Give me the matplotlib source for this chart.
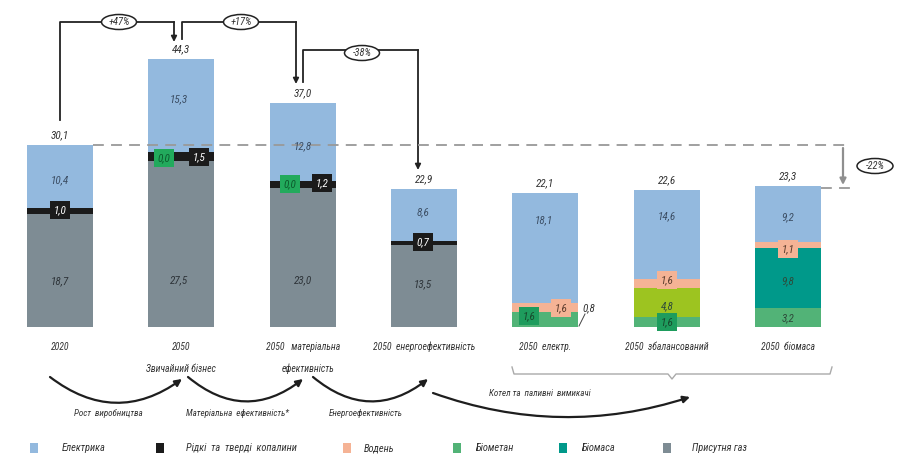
import matplotlib
matplotlib.use('Agg')
import matplotlib.pyplot as plt
from matplotlib import font_manager as fm
from matplotlib.patches import Ellipse, FancyArrowPatch, Rectangle
from matplotlib.lines import Line2D

# ---------------- data ----------------
categories = ['2020', '2050', '2050   матеріальна', '2050  енергоефективність',
              '2050  електр.', '2050  збалансований', '2050  біомаса']
sublabels = ['', 'Звичайний бізнес', 'ефективність', '', '', '', '']
totals = [30.1, 44.3, 37.0, 22.9, 22.1, 22.6, 23.3]
gas = [18.7, 27.5, 23.0, 13.5, 0, 0, 0]
other_green = [0, 0, 0, 0, 0.8, 0, 0]
biomethane = [0, 0.0, 0.0, 0, 1.6, 1.6, 3.2]
biomass = [0, 0, 0, 0, 0, 0, 9.8]
mixed = [0, 0, 0, 0, 0, 4.8, 0]
fossil = [1.0, 1.5, 1.2, 0.7, 0, 0, 0]
hydrogen = [0, 0, 0, 0, 1.6, 1.6, 1.1]
electricity = [10.4, 15.3, 12.8, 8.6, 18.1, 14.6, 9.2]
changes = ['+47%', '+17%', '-38%']
total_change = '-22%'
flows = ['Рост  виробництва', 'Матеріальна  ефективність*', 'Енергоефективність',
         'Котел та  паливні  вимикачі']
legend_names = ['Електрика', 'Рідкі  та  тверді  копалини', 'Водень', 'Біометан',
                'Біомаса', 'Присутня газ']

# ---------------- font choice (narrow if available) ----------------
_names = {f.name for f in fm.fontManager.ttflist}
FONT = None
STRETCH = 'normal'
for cand in ['Liberation Sans Narrow', 'Roboto Condensed', 'Open Sans Condensed',
             'DejaVu Sans Condensed', 'Noto Sans Condensed']:
    if cand in _names:
        FONT = cand
        break
if FONT is None:
    if any(f.name == 'DejaVu Sans' and f.stretch in ('condensed', 'semi-condensed')
           for f in fm.fontManager.ttflist):
        FONT = 'DejaVu Sans'
        STRETCH = 'condensed'
    elif 'Roboto' in _names:
        FONT = 'Roboto'
    else:
        FONT = 'DejaVu Sans'
plt.rcParams['font.family'] = [FONT, 'DejaVu Sans']
plt.rcParams['font.stretch'] = STRETCH

# ---------------- style ----------------
C_EL = '#93b9de'
C_FO = '#1b1b1b'
C_H2 = '#f5b395'
C_BM = '#52b377'
C_BIO = '#00998a'
C_MIX = '#9dc420'
C_GAS = '#7e8c94'
FS = 8

W, H = 900, 465
fig = plt.figure(figsize=(9, 4.65), dpi=100)
ax = fig.add_axes([0, 0, 1, 1])
PXX = 121.33   # px per category
PXY = 6.05     # px per unit
X0 = 60        # px of first bar centre
YB = 327       # px (from top) of the baseline
ax.set_xlim(-X0 / PXX, (W - X0) / PXX)
ax.set_ylim(-(H - YB) / PXY, YB / PXY)
ax.axis('off')


def F(x, y):
    return (x / W, 1 - y / H)


def fmt(v):
    return f'{v:.1f}'.replace('.', ',')


xs = list(range(len(categories)))
bw = 66 / PXX
stack = [(gas, C_GAS), (other_green, C_BM), (biomethane, C_BM), (biomass, C_BIO),
         (mixed, C_MIX), (fossil, C_FO), (hydrogen, C_H2), (electricity, C_EL)]
bottom = [0.0] * len(xs)
for vals, col in stack:
    ax.bar(xs, vals, width=bw, bottom=bottom, color=col, linewidth=0)
    bottom = [b + v for b, v in zip(bottom, vals)]

# totals
for i, t in enumerate(totals):
    ax.annotate(fmt(t), (i, bottom[i]), xytext=(0, 7), textcoords='offset points',
                ha='center', va='center', fontsize=FS, style='italic', color='#333333')

# segment labels: (value, x_px, y_px, style)
styles = {
    'blue': dict(color='#3b4d63'),
    'grey': dict(color='#2d3338'),
    'plain': dict(color='#2e4a3a'),
    'black': dict(color='white', bbox=dict(boxstyle='square,pad=0.35', fc=C_FO, ec='none')),
    'green0': dict(color='#0c5a2c', bbox=dict(boxstyle='square,pad=0.35', fc='#22aa5c', ec='none')),
    'green': dict(color='#17482c', bbox=dict(boxstyle='square,pad=0.35', fc='#1e9c5d', ec='none')),
    'salmon': dict(color='#5b3b2c', bbox=dict(boxstyle='square,pad=0.35', fc=C_H2, ec='none')),
    'outside': dict(color='#333333'),
}
labels = [
    (electricity[0], 60, 180, 'blue'), (fossil[0], 60, 210, 'black'), (gas[0], 60, 281, 'grey'),
    (electricity[1], 179, 99, 'blue'), (biomethane[1], 164, 158, 'green0'),
    (fossil[1], 199, 157, 'black'), (gas[1], 179, 280, 'grey'),
    (electricity[2], 303, 146, 'blue'), (biomethane[2], 290, 184, 'green0'),
    (fossil[2], 322, 183, 'black'), (gas[2], 303, 280, 'grey'),
    (electricity[3], 423, 212, 'blue'), (fossil[3], 423, 242, 'black'), (gas[3], 423, 284, 'grey'),
    (electricity[4], 544, 220, 'blue'), (biomethane[4], 529, 316, 'green'),
    (hydrogen[4], 561, 308, 'salmon'), (other_green[4], 589, 308, 'outside'),
    (electricity[5], 667, 216, 'blue'), (hydrogen[5], 667, 280, 'salmon'),
    (mixed[5], 667, 306, 'plain'), (biomethane[5], 667, 322, 'green'),
    (electricity[6], 788, 217, 'blue'), (hydrogen[6], 788, 249, 'salmon'),
    (biomass[6], 788, 281, 'plain'), (biomethane[6], 788, 318, 'plain'),
]
for v, xp, yp, st in labels:
    fig.text(*F(xp, yp), fmt(v), ha='center', va='center', fontsize=FS, style='italic',
             **styles[st])
# leader line for the 0,8 label
fig.add_artist(Line2D([579 / W, 585 / W], [1 - 326 / H, 1 - 314 / H],
                      color='#444444', lw=0.7))

# category labels
for i, (c, s) in enumerate(zip(categories, sublabels)):
    xp = X0 + i * PXX
    fig.text(*F(xp, 347), c, ha='center', va='center', fontsize=7, style='italic',
             color='#333333')
    if s:
        fig.text(*F(xp + (5 if i == 2 else 0), 369), s, ha='center', va='center',
                 fontsize=7, style='italic', color='#333333')


# brackets with percentage ellipses
def poly(pts, **kw):
    xsx = [p[0] / W for p in pts]
    ysy = [1 - p[1] / H for p in pts]
    fig.add_artist(Line2D(xsx, ysy, **kw))


def arrow(p1, p2, color='#222222', lw=1.3, ms=8, style='-|>', cs='arc3,rad=0'):
    a = FancyArrowPatch(F(*p1), F(*p2), transform=fig.transFigure, arrowstyle=style,
                        mutation_scale=ms, color=color, lw=lw, connectionstyle=cs,
                        shrinkA=0, shrinkB=0)
    fig.add_artist(a)


def ellipse_label(x, y, txt, w=35, h=15):
    e = Ellipse(F(x, y), w / W, h / H, transform=fig.transFigure, fc='white',
                ec='#222222', lw=1.1, zorder=5)
    fig.add_artist(e)
    fig.text(*F(x, y), txt, ha='center', va='center', fontsize=7.5, style='italic',
             color='#333333', zorder=6)


brackets = [((60, 120), (60, 22), (174, 22), (174, 42), (119, 22)),
            ((182, 39), (182, 22), (296, 22), (296, 84), (241, 22)),
            ((303, 82), (303, 50), (418, 50), (418, 170), (362, 53))]
for (a, b, c, d, e), txt in zip(brackets, changes):
    poly([a, b, c], color='#222222', lw=1.3)
    arrow(c, d)
    ellipse_label(e[0], e[1], txt)

# reference dashed lines and -22% arrow
poly([(93, 145), (849, 145)], color='#999999', lw=1.3, linestyle=(0, (6, 4)))
poly([(821, 188), (851, 188)], color='#999999', lw=1.3, linestyle=(0, (6, 4)))
arrow((843, 148), (843, 185), color='#8f8f8f', lw=1.6, ms=9)
ellipse_label(875, 166, total_change, w=36, h=15)

# curved flow arrows
arcs = [((50, 377), (182, 379), 0.37, (108, 413)),
        ((188, 377), (303, 379), 0.4, (238, 413)),
        ((313, 377), (428, 379), 0.4, (366, 413)),
        ((433, 393), (690, 397), 0.17, (540, 393))]
for (p1, p2, rad, tp), txt in zip(arcs, flows):
    arrow(p1, p2, color='#1e1e1e', lw=1.6, ms=10, cs=f'arc3,rad={rad}')
    fig.text(*F(*tp), txt, ha='center', va='center', fontsize=6.5, style='italic',
             color='#333333')

# brace under the last three scenarios
poly([(512, 367), (514, 374), (668, 374), (672, 379), (676, 374), (830, 374), (832, 367)],
     color='#aaaaaa', lw=1.0)

# legend
leg_cols = [C_EL, C_FO, C_H2, C_BM, C_BIO, C_GAS]
sq_x = [34, 160, 347, 457, 563, 667]
tx_x = [62, 186, 364, 476, 582, 692]
for name, col, sx, tx in zip(legend_names, leg_cols, sq_x, tx_x):
    fig.add_artist(Rectangle(((sx - 4) / W, 1 - 453 / H), 8 / W, 10 / H,
                             transform=fig.transFigure, fc=col, ec='none'))
    fig.text(*F(tx, 448), name, ha='left', va='center', fontsize=7.5, style='italic',
             color='#333333')

fig.savefig('out.png', dpi=100)
